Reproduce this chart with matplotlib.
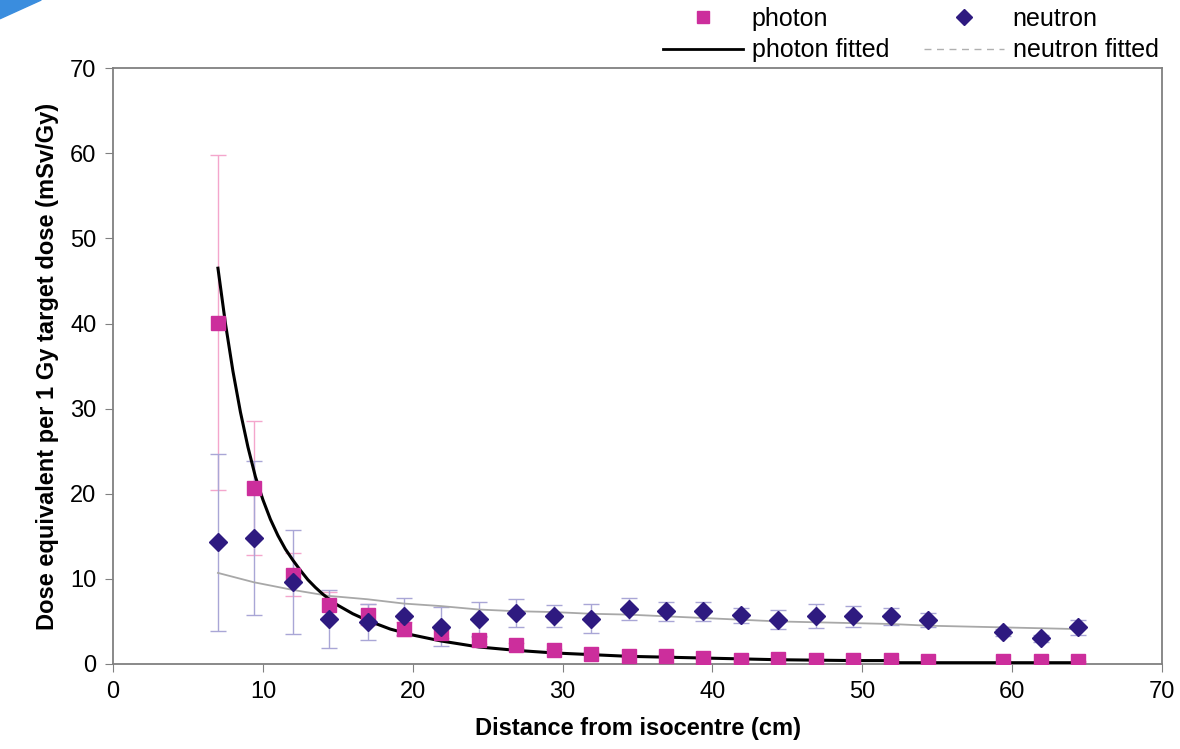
import matplotlib.pyplot as plt
from matplotlib.lines import Line2D
from matplotlib.patches import Polygon

plt.rcParams['font.family'] = ['Liberation Sans', 'DejaVu Sans']

# measured points (distance from isocentre, cm)
distance = [7.0, 9.4, 12.0, 14.4, 17.0, 19.4, 21.9, 24.4, 26.9, 29.4, 31.9,
            34.4, 36.9, 39.4, 41.9, 44.4, 46.9, 49.4, 51.9, 54.4, 59.4, 61.9, 64.4]

photon = [40.1, 20.7, 10.5, 6.9, 5.8, 4.1, 3.6, 2.8, 2.2, 1.6, 1.2,
          0.9, 0.9, 0.7, 0.5, 0.6, 0.5, 0.5, 0.5, 0.3, 0.3, 0.3, 0.3]
photon_err = [19.7, 7.9, 2.5, 1.5, 1.2, 0.8, 0.6, 0.4, 0.3, 0.2, 0.2,
              0.1, 0.1, 0.1, 0.1, 0.1, 0.1, 0.1, 0.1, 0.05, 0.05, 0.05, 0.05]

neutron = [14.3, 14.8, 9.6, 5.3, 4.9, 5.6, 4.4, 5.3, 6.0, 5.6, 5.3,
           6.5, 6.2, 6.2, 5.7, 5.2, 5.6, 5.6, 5.6, 5.2, 3.7, 3.0, 4.3]
neutron_err = [10.4, 9.0, 6.1, 3.4, 2.1, 2.2, 2.3, 2.0, 1.6, 1.3, 1.7,
               1.3, 1.1, 1.1, 0.9, 1.1, 1.4, 1.2, 1.0, 0.8, 0.4, 0.4, 0.9]

# fitted curves
photon_fit_x = [7.0, 7.5, 8.0, 8.5, 9.0, 9.5, 10.0, 10.5, 11.0, 11.5, 12.0, 12.5,
                13.0, 13.5, 14.0, 14.5, 15.0, 16.0, 17.0, 18.5, 20.0, 21.9, 24.4,
                26.9, 29.4, 31.9, 34.4, 36.9, 39.4, 41.9, 44.4, 46.9, 49.4, 51.9,
                52.5, 54.4, 59.4, 61.9, 64.4]
photon_fit_y = [46.5, 40.0, 34.4, 29.6, 25.5, 22.0, 19.3, 17.0, 15.1, 13.5, 12.2, 11.0,
                9.9, 9.0, 8.2, 7.5, 6.9, 5.9, 5.1, 4.1, 3.4, 2.7, 2.0,
                1.6, 1.3, 1.1, 0.9, 0.8, 0.7, 0.6, 0.5, 0.45, 0.4, 0.4,
                0.15, 0.15, 0.15, 0.15, 0.15]

neutron_fit_y = [10.7, 9.6, 8.7, 8.0, 7.6, 7.1, 6.8, 6.4, 6.2, 6.1, 5.9,
                 5.8, 5.6, 5.4, 5.2, 5.0, 4.9, 4.8, 4.7, 4.5, 4.3, 4.2, 4.1]

pink = '#CC2E9C'
navy = '#2E1A80'

fig = plt.figure(figsize=(11.8, 7.49), dpi=100)
ax = fig.add_axes([0.0958, 0.1135, 0.889, 0.7955])

ax.errorbar(distance, photon, yerr=photon_err, fmt='none', ecolor='#F4A6CC',
            elinewidth=1.0, capsize=6, capthick=1.0, zorder=1)
ax.errorbar(distance, neutron, yerr=neutron_err, fmt='none', ecolor='#A9A6D6',
            elinewidth=1.0, capsize=6, capthick=1.0, zorder=1)

ax.plot(distance, neutron_fit_y, color='#A8A8A8', lw=1.3, zorder=2)
ax.plot(photon_fit_x, photon_fit_y, color='black', lw=2.2, zorder=3)

ax.plot(distance, photon, 's', color=pink, ms=10, mec=pink, zorder=4)
ax.plot(distance, neutron, 'D', color=navy, ms=9, mec=navy, zorder=5)

ax.set_xlim(0, 70)
ax.set_ylim(0, 70)
ax.set_xticks(range(0, 71, 10))
ax.set_yticks(range(0, 71, 10))
ax.tick_params(direction='out', length=6, color='#808080', labelsize=17, pad=6)
for s in ax.spines.values():
    s.set_color('#808080')
    s.set_linewidth(1.3)

ax.set_xlabel('Distance from isocentre (cm)', fontsize=17, fontweight='bold', labelpad=10)
ax.set_ylabel('Dose equivalent per 1 Gy target dose (mSv/Gy)', fontsize=17,
              fontweight='bold', labelpad=8)

handles = [
    Line2D([], [], ls='none', marker='s', color=pink, ms=9),
    Line2D([], [], color='black', lw=2),
    Line2D([], [], ls='none', marker='D', color=navy, ms=8),
    Line2D([], [], color='#B0B0B0', lw=1, ls=(0, (5, 4))),
]
labels = ['photon', 'photon fitted', 'neutron', 'neutron fitted']
fig.legend(handles, labels, ncol=2, loc='upper right', bbox_to_anchor=(1.001, 1.021),
           frameon=False, fontsize=18, handlelength=3.2, columnspacing=1.4,
           labelspacing=0.3, handletextpad=0.35)

# corner mark of the screenshot
fig.add_artist(Polygon([[0, 1], [0.035, 1], [0, 0.975]], closed=True,
                       transform=fig.transFigure, color='#3A8DDE'))

fig.savefig('out.png', dpi=100)
